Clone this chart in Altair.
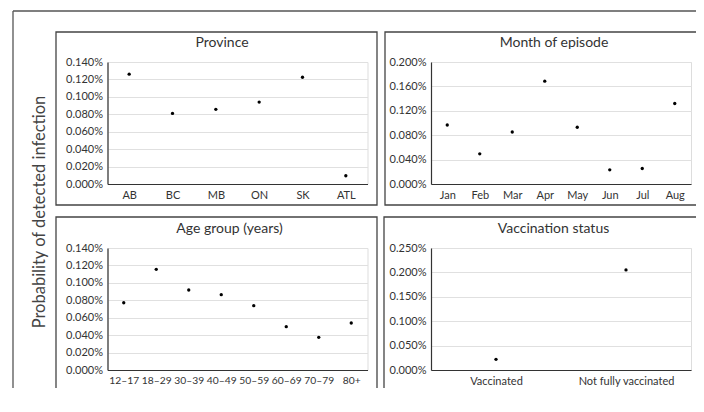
import altair as alt
import pandas as pd

FONT = "Lato"

# ---- data (probabilities as fractions) ----
province_cats = ["AB", "BC", "MB", "ON", "SK", "ATL"]
province_vals = [0.00126, 0.00081, 0.000857, 0.00094, 0.001225, 0.000095]

month_cats = ["Jan", "Feb", "Mar", "Apr", "May", "Jun", "Jul", "Aug"]
month_vals = [0.000967, 0.000494, 0.000853, 0.001685, 0.00093, 0.000233, 0.000254, 0.00132]

age_cats = ["12–17", "18–29", "30–39", "40–49", "50–59", "60–69", "70–79", "80+"]
age_vals = [0.000772, 0.001155, 0.000918, 0.000864, 0.000738, 0.000497, 0.000375, 0.000539]

vacc_cats = ["Vaccinated", "Not fully vaccinated"]
vacc_vals = [0.000219, 0.00205]

province_ticks = [0, 0.0002, 0.0004, 0.0006, 0.0008, 0.0010, 0.0012, 0.0014]
month_ticks = [0, 0.0004, 0.0008, 0.0012, 0.0016, 0.0020]
age_ticks = province_ticks
vacc_ticks = [0, 0.0005, 0.0010, 0.0015, 0.0020, 0.0025]

titles = ["Province", "Month of episode", "Age group (years)", "Vaccination status"]
y_title = "Probability of detected infection"

W, H = 260, 122
one = pd.DataFrame({"k": [0]})
LFS = 11


def panel(cats, vals, ticks, title, title_x, box, extra=None, xfs=LFS):
    df = pd.DataFrame({"cat": cats, "val": vals})
    pts = alt.Chart(df).mark_circle(size=11, color="black", opacity=1).encode(
        x=alt.X("cat:N", sort=cats, scale=alt.Scale(padding=0.5),
                axis=alt.Axis(title=None, labelAngle=0, ticks=False, grid=False,
                              domainColor="#333", domainWidth=1.2, labelPadding=5,
                              labelFont=FONT, labelFontSize=xfs, labelColor="#333")),
        y=alt.Y("val:Q", scale=alt.Scale(domain=[0, ticks[-1]], nice=False, zero=True),
                axis=alt.Axis(title=None, values=ticks, format=".3%", ticks=False,
                              domainColor="#333", domainWidth=1.2, gridColor="#e0e0e0",
                              gridWidth=1, labelPadding=5, labelFont=FONT,
                              labelFontSize=LFS, labelColor="#333")),
    )
    x0, x1, y0, y1 = box
    border = alt.Chart(one).mark_rect(filled=False, stroke="#444", strokeWidth=1.3).encode(
        x=alt.value(x0), x2=alt.value(x1), y=alt.value(y0), y2=alt.value(y1)
    )
    ttl = alt.Chart(one).mark_text(font=FONT, fontSize=14, color="#333",
                                   align="center", baseline="middle").encode(
        x=alt.value(title_x), y=alt.value(-19), text=alt.value(title)
    )
    layers = [border, ttl, pts]
    if extra:
        layers = extra + layers
    return alt.layer(*layers).properties(width=W, height=H)


# outer frame: top and left edges only (the rest lies outside the picture)
frame_top = alt.Chart(one).mark_rule(stroke="#555", strokeWidth=1.3).encode(
    x=alt.value(-94.5), x2=alt.value(700), y=alt.value(-51)
)
frame_left = alt.Chart(one).mark_rule(stroke="#555", strokeWidth=1.3).encode(
    x=alt.value(-94.5), y=alt.value(-51), y2=alt.value(400)
)
ylab = alt.Chart(one).mark_text(font=FONT, fontSize=16.5, color="#444", angle=270,
                                align="center", baseline="middle").encode(
    x=alt.value(-67.5), y=alt.value(150), text=alt.value(y_title)
)

tl = panel(province_cats, province_vals, province_ticks, titles[0], 114.5,
           (-51.5, 269.5, -30, 143), extra=[frame_top, frame_left, ylab])
tr = panel(month_cats, month_vals, month_ticks, titles[1], 123,
           (-46, 269, -30, 143))
bl = panel(age_cats, age_vals, age_ticks, titles[2], 122,
           (-51.5, 269.5, -31, 144), xfs=10.3)
br = panel(vacc_cats, vacc_vals, vacc_ticks, titles[3], 122.5,
           (-47, 268, -31, 144))

chart = alt.concat(tl, tr, bl, br, columns=2,
                   spacing={"row": 64, "column": 63.5}, bounds="flush").properties(
    autosize=alt.AutoSizeParams(type="none"),
    padding={"left": 99.5, "top": 54, "right": 588.5, "bottom": 326},
).configure_view(strokeWidth=0).configure(background="white")

chart.save("out.html", embed_options={"renderer": "svg", "actions": False})
